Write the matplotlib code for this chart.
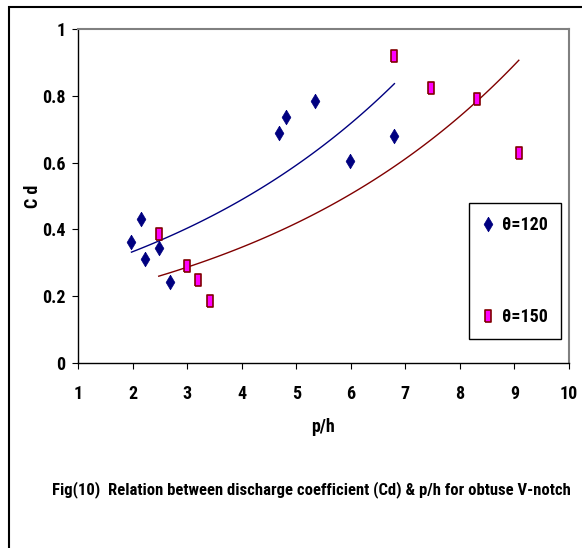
import matplotlib
matplotlib.use("Agg")
import matplotlib.pyplot as plt
import matplotlib.font_manager as fm
import numpy as np
from matplotlib.patches import Rectangle

# pick a narrow bold sans if one is installed (the original uses Arial Narrow)
fonts = fm.fontManager.ttflist
names = set(f.name for f in fonts)
family, stretch = 'DejaVu Sans', 'condensed'
for n in ['Liberation Sans Narrow', 'Arial Narrow', 'Roboto Condensed',
          'Open Sans Condensed', 'Noto Sans Condensed', 'DejaVu Sans Condensed']:
    if n in names:
        family, stretch = n, 'normal'
        break
else:
    cond = [f for f in fonts if f.stretch in ('condensed', 'semi-condensed', 'extra-condensed')
            and 'Sans' in f.name and 'CJK' not in f.name]
    if cond:
        cond.sort(key=lambda f: (f.name != 'Noto Sans', f.name != 'Open Sans', f.name != 'Roboto', f.name))
        family, stretch = cond[0].name, cond[0].stretch
plt.rcParams['font.family'] = [family, 'DejaVu Sans']
plt.rcParams['font.stretch'] = stretch
plt.rcParams['font.weight'] = 'bold'

# data
ph_120 = [1.98, 2.15, 2.22, 2.48, 2.68, 4.69, 4.82, 5.34, 5.99, 6.80]
cd_120 = [0.361, 0.430, 0.312, 0.345, 0.242, 0.688, 0.736, 0.785, 0.605, 0.680]
ph_150 = [2.48, 3.00, 3.20, 3.42, 6.79, 7.47, 8.31, 9.08]
cd_150 = [0.386, 0.289, 0.247, 0.184, 0.921, 0.824, 0.790, 0.630]
labels = ['θ=120', 'θ=150']
xticks = [1, 2, 3, 4, 5, 6, 7, 8, 9, 10]
yticks = [0, 0.2, 0.4, 0.6, 0.8, 1]

diamond = [(0, 1), (0.6, 0), (0, -1), (-0.6, 0), (0, 1)]
rect = [(-0.6, -1), (0.6, -1), (0.6, 1), (-0.6, 1), (-0.6, -1)]
fs = 13

fig = plt.figure(figsize=(5.82, 5.48), dpi=100)
ax = fig.add_axes([78/582, 1-362.7/548, 491/582, 333.4/548])

ax.plot(ph_120, cd_120, linestyle='none', marker=diamond, markersize=10.5,
        color='#000080', markeredgewidth=0.5, label=labels[0], zorder=3)
ax.plot(ph_150, cd_150, linestyle='none', marker=rect, markersize=8,
        markerfacecolor='#ff00ff', markeredgecolor='#800000', markeredgewidth=1.2,
        label=labels[1], zorder=4)

# exponential trendlines (excel style)
for xs, ys, col in [(ph_120, cd_120, '#000080'), (ph_150, cd_150, '#800000')]:
    xs = np.array(xs)
    b, lna = np.polyfit(xs, np.log(ys), 1)
    xx = np.linspace(xs.min(), xs.max(), 100)
    ax.plot(xx, np.exp(lna + b*xx), color=col, lw=1.0, zorder=2)

ax.set_xlim(1, 10)
ax.set_ylim(0, 1)
ax.set_xticks(xticks)
ax.set_yticks(yticks)
ax.set_yticklabels(['%g' % v for v in yticks])
ax.tick_params(axis='x', direction='out', length=4, pad=12, labelsize=fs)
ax.tick_params(axis='y', direction='out', length=4, pad=5, labelsize=fs)
for s in ['top', 'right']:
    ax.spines[s].set_color('#808080')
    ax.spines[s].set_linewidth(1.5)
for s in ['left', 'bottom']:
    ax.spines[s].set_linewidth(1.0)

ax.set_xlabel('p/h', fontsize=fs, fontweight='bold', labelpad=11)
ax.set_ylabel('C d', fontsize=fs, fontweight='bold', labelpad=0)

leg = ax.legend(loc='upper right', bbox_to_anchor=(0.984, 0.479), borderaxespad=0,
                fancybox=False, edgecolor='black', framealpha=1, fontsize=fs,
                labelspacing=4.1, borderpad=0.72, handlelength=0.6, handletextpad=0.5)
leg.get_frame().set_linewidth(1.0)

fig.text(311/582, 1-490/548,
         'Fig(10)  Relation between discharge coefficient (Cd) & p/h for obtuse V-notch',
         ha='center', va='center', fontsize=12, fontweight='bold')

fig.add_artist(Rectangle((8.5/582, -0.05), 1.0, 1.05-6.5/548, transform=fig.transFigure,
                         fill=False, edgecolor='black', linewidth=1.5))

fig.savefig('out.png', dpi=100)
